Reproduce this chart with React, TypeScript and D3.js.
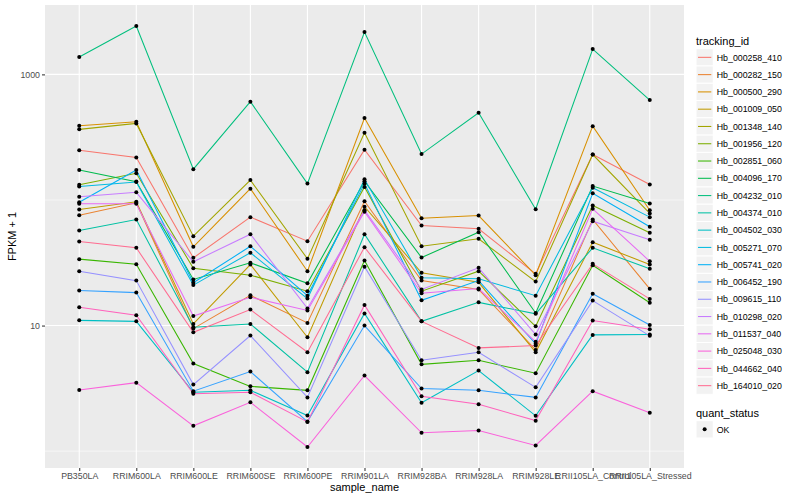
import React from 'react';
import * as d3 from 'd3';

const samples = [
  'PB350LA', 'RRIM600LA', 'RRIM600LE', 'RRIM600SE', 'RRIM600PE', 'RRIM901LA',
  'RRIM928BA', 'RRIM928LA', 'RRIM928LE', 'RRII105LA_Control', 'RRII105LA_Stressed'
];

// FPKM + 1 per sample, same order as `samples`
const hb000258_410 = [249, 218, 34.6, 73.0, 47.0, 251, 62.6, 59.0, 25.8, 230, 133];
const hb000282_150 = [75.7, 95.0, 9.46, 17.4, 10.5, 97.8, 22.8, 19.4, 6.40, 69.9, 19.6];
const hb000500_290 = [390, 420, 42.4, 123, 27.1, 449, 71.6, 75.2, 25.2, 387, 82.9];
const hb001009_050 = [84.0, 96.7, 10.3, 30.6, 8.07, 88.3, 26.3, 22.1, 6.13, 46.1, 30.6];
const hb001348_140 = [365, 407, 51.5, 144, 34.0, 343, 42.8, 49.1, 22.4, 230, 78.1];
const hb001956_120 = [132, 163, 28.6, 25.2, 18.8, 127, 18.8, 27.1, 9.87, 90.4, 54.8];
const hb002851_060 = [33.8, 30.8, 4.98, 3.28, 3.05, 33.0, 4.91, 5.29, 4.17, 30.2, 15.2];
const hb004096_170 = [173, 140, 23.3, 31.6, 21.7, 141, 34.8, 55.4, 12.6, 129, 93.8];
const hb004232_010 = [1374, 2426, 176, 606, 135, 2174, 232, 495, 84.5, 1591, 624];
const hb004374_010 = [57.1, 69.9, 9.69, 10.3, 4.25, 53.4, 10.8, 15.3, 12.4, 41.6, 28.3];
const hb004502_030 = [11.0, 10.8, 2.94, 3.05, 1.92, 12.5, 2.43, 4.38, 1.91, 8.43, 8.48];
const hb005271_070 = [128, 139, 21.0, 38.0, 16.4, 146, 24.0, 23.6, 17.3, 125, 73.0];
const hb005741_020 = [96.0, 173, 21.9, 42.8, 17.3, 135, 15.9, 22.8, 7.15, 113, 61.2];
const hb006452_190 = [19.0, 18.3, 3.00, 4.30, 1.72, 10.0, 3.15, 3.05, 2.68, 17.9, 10.1];
const hb009615_110 = [27.1, 22.8, 3.39, 8.32, 2.68, 29.4, 5.29, 6.13, 3.22, 15.8, 8.28];
const hb010298_020 = [106, 115, 32.2, 53.4, 13.7, 82.9, 19.4, 28.8, 8.48, 67.8, 48.2];
const hb011537_040 = [93.3, 93.3, 11.9, 16.8, 13.2, 80.5, 18.1, 19.7, 7.42, 85.1, 32.5];
const hb025048_030 = [3.07, 3.51, 1.59, 2.45, 1.08, 4.00, 1.40, 1.46, 1.11, 3.00, 2.02];
const hb044662_040 = [14.0, 12.1, 2.86, 2.94, 1.71, 14.6, 2.73, 2.36, 1.75, 10.96, 9.34];
const hb164010_020 = [46.7, 41.6, 8.84, 13.4, 6.13, 42.1, 10.8, 6.64, 6.93, 31.0, 16.3];

const trackingIds = [
  'Hb_000258_410', 'Hb_000282_150', 'Hb_000500_290', 'Hb_001009_050', 'Hb_001348_140',
  'Hb_001956_120', 'Hb_002851_060', 'Hb_004096_170', 'Hb_004232_010', 'Hb_004374_010',
  'Hb_004502_030', 'Hb_005271_070', 'Hb_005741_020', 'Hb_006452_190', 'Hb_009615_110',
  'Hb_010298_020', 'Hb_011537_040', 'Hb_025048_030', 'Hb_044662_040', 'Hb_164010_020'
];
const seriesValues = [
  hb000258_410, hb000282_150, hb000500_290, hb001009_050, hb001348_140,
  hb001956_120, hb002851_060, hb004096_170, hb004232_010, hb004374_010,
  hb004502_030, hb005271_070, hb005741_020, hb006452_190, hb009615_110,
  hb010298_020, hb011537_040, hb025048_030, hb044662_040, hb164010_020
];
// ggplot default hue palette for 20 levels
const hueColours = [
  '#F8766D', '#EA8331', '#D89000', '#C09B00', '#A3A500', '#7CAE00', '#39B600',
  '#00BB4E', '#00BF7D', '#00C1A3', '#00BFC4', '#00BAE0', '#00B0F6', '#35A2FF',
  '#9590FF', '#C77CFF', '#E76BF3', '#FA62DB', '#FF62BC', '#FF6C91'
];
const yBreaks = [10, 1000];
const yMinorBreaks = [1, 100];
const statusLevels = ['OK'];

const FONT = "'Liberation Sans', Arial, Helvetica, sans-serif";

const App: React.FC = () => {
  const ref = React.useRef<SVGSVGElement>(null);

  React.useEffect(() => {
    const svg = d3.select(ref.current);
    svg.selectAll('*').remove();

    const panel = { left: 45, top: 5, right: 684, bottom: 468 };

    const series = trackingIds.map((id, i) => ({ id, values: seriesValues[i], colour: hueColours[i] }));
    const allVals = series.flatMap(s => s.values);
    const lo = Math.log10(d3.min(allVals) as number);
    const hi = Math.log10(d3.max(allVals) as number);
    const pad = (hi - lo) * 0.05;

    const x = d3.scalePoint<string>().domain(samples).range([panel.left, panel.right]).padding(0.6);
    const y = d3
      .scaleLog()
      .domain([Math.pow(10, lo - pad), Math.pow(10, hi + pad)])
      .range([panel.bottom, panel.top]);

    svg.append('rect').attr('width', 800).attr('height', 500).attr('fill', '#ffffff');

    // panel + grid
    svg
      .append('rect')
      .attr('x', panel.left)
      .attr('y', panel.top)
      .attr('width', panel.right - panel.left)
      .attr('height', panel.bottom - panel.top)
      .attr('fill', '#EBEBEB');

    const grid = svg.append('g');
    grid
      .selectAll('line.minor')
      .data(yMinorBreaks)
      .enter()
      .append('line')
      .attr('x1', panel.left)
      .attr('x2', panel.right)
      .attr('y1', d => y(d))
      .attr('y2', d => y(d))
      .attr('stroke', '#ffffff')
      .attr('stroke-width', 0.55);
    grid
      .selectAll('line.major')
      .data(yBreaks)
      .enter()
      .append('line')
      .attr('x1', panel.left)
      .attr('x2', panel.right)
      .attr('y1', d => y(d))
      .attr('y2', d => y(d))
      .attr('stroke', '#ffffff')
      .attr('stroke-width', 1.1);
    grid
      .selectAll('line.vert')
      .data(samples)
      .enter()
      .append('line')
      .attr('x1', d => x(d) as number)
      .attr('x2', d => x(d) as number)
      .attr('y1', panel.top)
      .attr('y2', panel.bottom)
      .attr('stroke', '#ffffff')
      .attr('stroke-width', 1.1);

    // lines
    const line = d3
      .line<number>()
      .x((_d, i) => x(samples[i]) as number)
      .y(d => y(d));

    svg
      .append('g')
      .selectAll('path')
      .data(series)
      .enter()
      .append('path')
      .attr('d', d => line(d.values))
      .attr('fill', 'none')
      .attr('stroke', d => d.colour)
      .attr('stroke-width', 1.05);

    // points
    const pts = series.flatMap(s => s.values.map((v, i) => ({ sample: samples[i], v })));
    svg
      .append('g')
      .selectAll('circle')
      .data(pts)
      .enter()
      .append('circle')
      .attr('cx', d => x(d.sample) as number)
      .attr('cy', d => y(d.v))
      .attr('r', 2)
      .attr('fill', '#000000');

    // axes
    const yAxis = svg
      .append('g')
      .attr('transform', `translate(${panel.left},0)`)
      .call(
        d3
          .axisLeft(y)
          .tickValues(yBreaks)
          .tickFormat(d3.format('d') as any)
          .tickSize(3)
          .tickPadding(2)
      );
    const xAxis = svg
      .append('g')
      .attr('transform', `translate(0,${panel.bottom})`)
      .call(d3.axisBottom(x).tickSize(3).tickPadding(2));

    [yAxis, xAxis].forEach(g => {
      g.select('.domain').remove();
      g.selectAll('line').attr('stroke', '#333333').attr('stroke-width', 1.05);
      g.selectAll('text')
        .attr('fill', '#4D4D4D')
        .style('font-family', FONT)
        .style('font-size', '8.8px');
    });

    // axis titles
    svg
      .append('text')
      .attr('x', (panel.left + panel.right) / 2)
      .attr('y', 491)
      .attr('text-anchor', 'middle')
      .style('font-family', FONT)
      .style('font-size', '11px')
      .text('sample_name');
    svg
      .append('text')
      .attr('transform', `translate(16,${(panel.top + panel.bottom) / 2}) rotate(-90)`)
      .attr('text-anchor', 'middle')
      .style('font-family', FONT)
      .style('font-size', '11px')
      .text('FPKM + 1');

    // legend: tracking_id
    const legX = 696;
    const keySize = 17.28;
    const legend = svg.append('g');
    legend
      .append('text')
      .attr('x', legX)
      .attr('y', 44.5)
      .style('font-family', FONT)
      .style('font-size', '11px')
      .text('tracking_id');

    const rows = legend
      .selectAll('g.key')
      .data(series)
      .enter()
      .append('g')
      .attr('transform', (_d, i) => `translate(${legX},${48.7 + i * keySize})`);
    rows
      .append('rect')
      .attr('width', keySize)
      .attr('height', keySize)
      .attr('fill', '#F2F2F2')
      .attr('stroke', '#ffffff')
      .attr('stroke-width', 1);
    rows
      .append('line')
      .attr('x1', 2)
      .attr('x2', keySize - 2)
      .attr('y1', keySize / 2)
      .attr('y2', keySize / 2)
      .attr('stroke', d => d.colour)
      .attr('stroke-width', 1.05);
    rows
      .append('text')
      .attr('x', keySize + 3.5)
      .attr('y', keySize / 2 + 3.2)
      .style('font-family', FONT)
      .style('font-size', '8.8px')
      .text(d => d.id);

    // legend: quant_status
    legend
      .append('text')
      .attr('x', legX)
      .attr('y', 416.5)
      .style('font-family', FONT)
      .style('font-size', '11px')
      .text('quant_status');
    const status = legend
      .selectAll('g.status')
      .data(statusLevels)
      .enter()
      .append('g')
      .attr('transform', (_d, i) => `translate(${legX},${420.7 + i * keySize})`);
    status
      .append('rect')
      .attr('width', keySize)
      .attr('height', keySize)
      .attr('fill', '#F2F2F2')
      .attr('stroke', '#ffffff')
      .attr('stroke-width', 1);
    status
      .append('circle')
      .attr('cx', keySize / 2)
      .attr('cy', keySize / 2)
      .attr('r', 2)
      .attr('fill', '#000000');
    status
      .append('text')
      .attr('x', keySize + 3.5)
      .attr('y', keySize / 2 + 3.2)
      .style('font-family', FONT)
      .style('font-size', '8.8px')
      .text(d => d);
  }, []);

  return (
    <div style={{ position: 'absolute', left: 0, top: 0 }}>
      <svg ref={ref} width={800} height={500} />
    </div>
  );
};

export default App;
